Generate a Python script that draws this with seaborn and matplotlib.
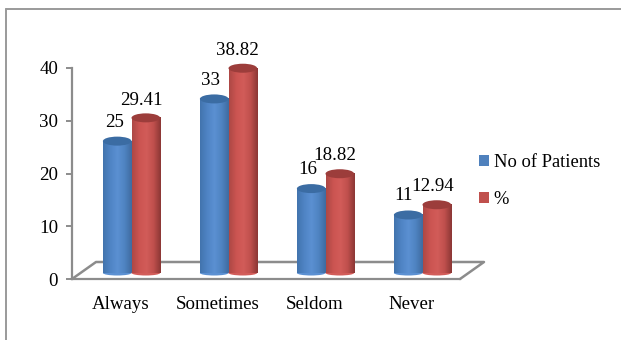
import numpy as np
import pandas as pd
import matplotlib
matplotlib.use("Agg")
import matplotlib.pyplot as plt
from matplotlib.colors import LinearSegmentedColormap
from matplotlib.patches import Ellipse, Patch
from matplotlib.lines import Line2D
import seaborn as sns

categories = ["Always", "Sometimes", "Seldom", "Never"]
patients = [25, 33, 16, 11]
percent = [29.41, 38.82, 18.82, 12.94]
series_names = ["No of Patients", "%"]
y_ticks = [0, 10, 20, 30, 40]

W, H = 621, 340
sns.set_theme(style="white")
plt.rcParams["font.family"] = ["Liberation Serif", "DejaVu Serif"]
FS = 13.6
GREY = "#8c8c8c"

fig = plt.figure(figsize=(W / 100, H / 100), dpi=100, facecolor="white")

def px_axes(x0, ytop, x1, ybot, **kw):
    return fig.add_axes([x0 / W, 1 - ybot / H, (x1 - x0) / W, (ybot - ytop) / H], **kw)

# outer chart frame
fig.add_artist(Line2D([6 / W, 6 / W], [0, 1 - 9 / H], color="#9a9a9a", lw=1.4))
fig.add_artist(Line2D([6 / W, 1], [1 - 9 / H, 1 - 9 / H], color="#9a9a9a", lw=1.4))

# floor parallelogram, drawn in figure pixels, behind the axes
fx = [72, 96, 484, 460]
fy = [279, 262, 262, 279]
fig.add_artist(Line2D([x / W for x in fx], [1 - y / H for y in fy], color=GREY, lw=1.8, zorder=-1))

# front axes: ticks and labels
ax = px_axes(72, 68, 460, 279)
ax.set_xlim(-0.5, 3.5)
ax.set_ylim(0, 40)
ax.patch.set_alpha(0)
for s in ("top", "right"):
    ax.spines[s].set_visible(False)
for s in ("left", "bottom"):
    ax.spines[s].set_color(GREY)
    ax.spines[s].set_linewidth(1.6)
ax.set_yticks(y_ticks)
ax.set_xticks([-0.5, 0.5, 1.5, 2.5, 3.5])
ax.set_xticklabels([])
ax.set_xticks(range(4), categories, minor=True)
ax.tick_params(axis="x", which="minor", length=0, pad=12, labelsize=FS, colors="black")
ax.tick_params(axis="x", which="major", length=4, width=1.4, color=GREY, direction="out")
ax.tick_params(axis="y", length=4, width=1.4, color=GREY, labelsize=FS, labelcolor="black", pad=6,
               direction="out", left=True)

# bars axes, displaced into the depth of the 3D floor
bx = px_axes(83, 62, 471, 273)
bx.set_axis_off()
df = pd.DataFrame({
    "cat": categories * 2,
    "series": [series_names[0]] * 4 + [series_names[1]] * 4,
    "val": patients + percent,
})
pal = {series_names[0]: "#4F81BD", series_names[1]: "#C0504D"}
sns.barplot(data=df, x="cat", y="val", hue="series", palette=pal, ax=bx, legend=False,
            width=0.59, gap=0, saturation=1, errorbar=None)
bx.set_xlim(-0.5, 3.5)
bx.set_ylim(0, 40)

cmaps = [
    LinearSegmentedColormap.from_list("b", ["#4274ae", "#4f84c4", "#5b90d2", "#4f84c2", "#3f6ba0"]),
    LinearSegmentedColormap.from_list("r", ["#ad4845", "#cb5451", "#d25c59", "#c0504d", "#8c3735"]),
]
tops = ["#3b6ca3", "#9c3d3b"]
grad = np.linspace(0, 1, 64).reshape(1, -1)
px_y = 40 / 211       # data units per pixel on y
n = len(categories)
label_off = [(-2, 7.2), (-3, 6.8), (-2.8, 7.3), (-3.6, 8), (-3, 6.7), (-3.6, 7), (-3.6, 7.1), (-2.9, 7.2)]
values = patients + percent
bars = list(bx.patches)[:2 * n]
for i, b in enumerate(bars):
    sidx = i // n
    x0, w, h = b.get_x(), b.get_width(), b.get_height()
    b.set_visible(False)
    bottom = Ellipse((x0 + w / 2, 0), w, 5 * px_y, clip_on=False, fc=cmaps[sidx](0.5), ec="none", zorder=2 + sidx)
    bx.add_patch(bottom)
    bx.imshow(grad, cmap=cmaps[sidx], extent=(x0, x0 + w, 0, h), aspect="auto", zorder=2.1 + sidx,
              interpolation="bilinear")
    top = Ellipse((x0 + w / 2, h), w, 9 * px_y, clip_on=False, fc=tops[sidx], ec="none", zorder=2.2 + sidx)
    bx.add_patch(top)
    dx, dy = label_off[i]
    bx.annotate(f"{values[i]:g}", (x0 + w / 2, h), xytext=(dx, dy), textcoords="offset points",
                ha="center", va="bottom", fontsize=FS, color="black", zorder=6, annotation_clip=False)
bx.set_xlim(-0.5, 3.5)
bx.set_ylim(0, 40)
bx.set_aspect("auto")

# legend
handles = [Patch(fc=pal[s], ec="none", label=s) for s in series_names]
fig.legend(handles=handles, loc="upper left", bbox_to_anchor=(479 / W, 1 - 154 / H), frameon=False,
           fontsize=13.3, handlelength=0.55, handleheight=0.55, handletextpad=0.25, labelspacing=1.1,
           borderpad=0, borderaxespad=0, labelcolor="black")

fig.savefig("out.png", dpi=100, facecolor="white")
